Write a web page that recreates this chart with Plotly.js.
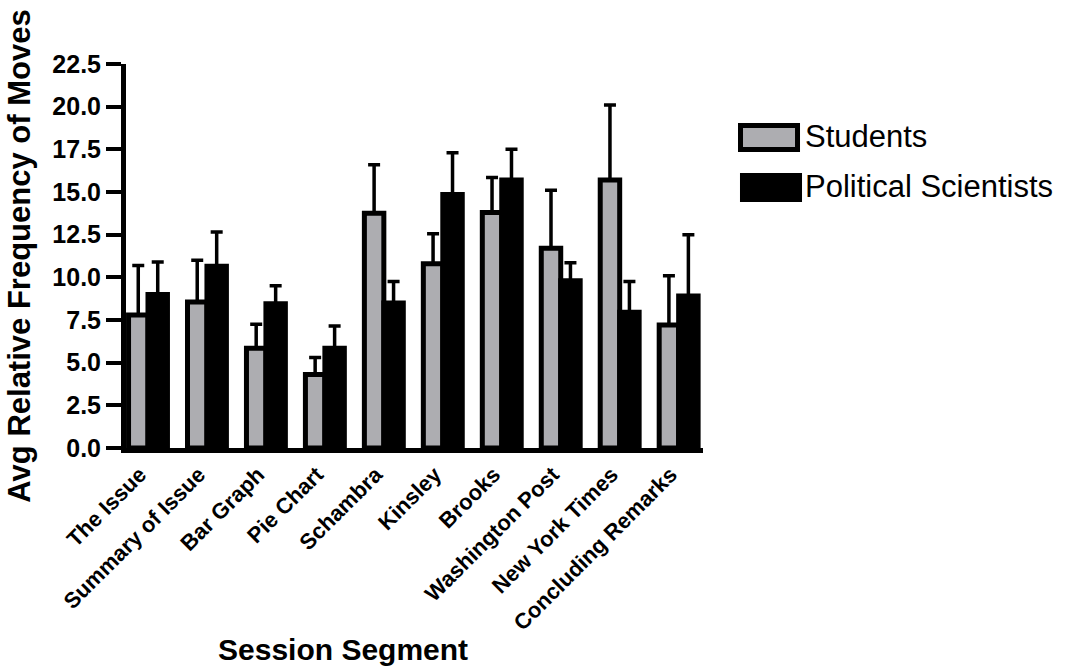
<!DOCTYPE html>
<html>
<head>
<meta charset="utf-8">
<script src="https://cdn.plot.ly/plotly-3.0.1.min.js"></script>
<style>html,body{margin:0;padding:0;background:#fff;}#chart{width:1065px;height:668px;}</style>
</head>
<body>
<div id="chart"></div>
<script>
const categories = ["The Issue", "Summary of Issue", "Bar Graph", "Pie Chart", "Schambra", "Kinsley", "Brooks", "Washington Post", "New York Times", "Concluding Remarks"];
const studentsMean = [7.8, 8.55, 5.85, 4.3, 13.75, 10.8, 13.8, 11.7, 15.7, 7.2];
const studentsErr = [2.9, 2.45, 1.4, 1.0, 2.85, 1.75, 2.05, 3.4, 4.4, 2.9];
const polsciMean = [9.0, 10.65, 8.45, 5.85, 8.5, 14.85, 15.7, 9.8, 7.95, 8.9];
const polsciErr = [1.9, 2.0, 1.05, 1.3, 1.25, 2.45, 1.8, 1.05, 1.8, 3.6];
const seriesNames = ["Students", "Political Scientists"];
const seriesColors = ["#adadb1", "#000000"];
const yTickVals = [0, 2.5, 5, 7.5, 10, 12.5, 15, 17.5, 20, 22.5];

const FONT = "Liberation Sans, Arial, Helvetica, sans-serif";
const zeros = categories.map(() => 0);

function barTrace(name, y, err, color) {
  return {
    type: "bar",
    name: name,
    x: categories,
    y: y,
    marker: {color: color, line: {color: "#000", width: 5}},
    error_y: {type: "data", symmetric: false, array: err, arrayminus: zeros,
              color: "#000", thickness: 3.5, width: 6},
    hoverinfo: "x+y"
  };
}

const data = [
  barTrace(seriesNames[0], studentsMean, studentsErr, seriesColors[0]),
  barTrace(seriesNames[1], polsciMean, polsciErr, seriesColors[1])
];

const layout = {
  width: 1065, height: 668,
  margin: {l: 126, r: 362, t: 64, b: 220},
  paper_bgcolor: "#fff", plot_bgcolor: "#fff",
  font: {family: FONT, color: "#000"},
  barmode: "group", bargap: 0.34, bargroupgap: 0,
  showlegend: false,
  xaxis: {
    type: "category",
    range: [-0.373, 9.413],
    showline: true, linewidth: 5, linecolor: "#000",
    ticks: "", showgrid: false, zeroline: false,
    tickangle: -45,
    ticklabelshift: -8, ticklabelstandoff: 0,
    tickfont: {family: FONT, size: 22, weight: "bold", color: "#000"}
  },
  yaxis: {
    range: [0, 22.5],
    tickvals: yTickVals, tickformat: ".1f",
    showline: true, linewidth: 5, linecolor: "#000",
    ticks: "outside", ticklen: 15, tickwidth: 4, tickcolor: "#000",
    showgrid: false, zeroline: false,
    tickfont: {family: FONT, size: 25, weight: "bold", color: "#000"},
    title: {text: "Avg Relative Frequency of Moves", standoff: 14,
            font: {family: FONT, size: 31, weight: "bold", color: "#000"}}
  },
  shapes: [
    {type: "rect", xref: "paper", yref: "paper", x0: 1.065, x1: 1.1638, y0: 0.7773, y1: 0.8398,
     fillcolor: seriesColors[0], line: {color: "#000", width: 5}},
    {type: "rect", xref: "paper", yref: "paper", x0: 1.0641, x1: 1.1716, y0: 0.6406, y1: 0.7161,
     fillcolor: seriesColors[1], line: {color: "#000", width: 0}}
  ],
  annotations: [
    {text: seriesNames[0], xref: "paper", yref: "paper", x: 1.1733, y: 0.8099,
     xanchor: "left", yanchor: "middle", showarrow: false,
     font: {family: FONT, size: 31, color: "#000"}},
    {text: seriesNames[1], xref: "paper", yref: "paper", x: 1.1733, y: 0.6797,
     xanchor: "left", yanchor: "middle", showarrow: false,
     font: {family: FONT, size: 31, color: "#000"}},
    {text: "Session Segment", xref: "paper", yref: "paper", x: 0.376, y: -0.526,
     xanchor: "center", yanchor: "middle", showarrow: false,
     font: {family: FONT, size: 30, weight: "bold", color: "#000"}}
  ]
};

Plotly.newPlot("chart", data, layout, {displayModeBar: false, staticPlot: true});
</script>
</body>
</html>
